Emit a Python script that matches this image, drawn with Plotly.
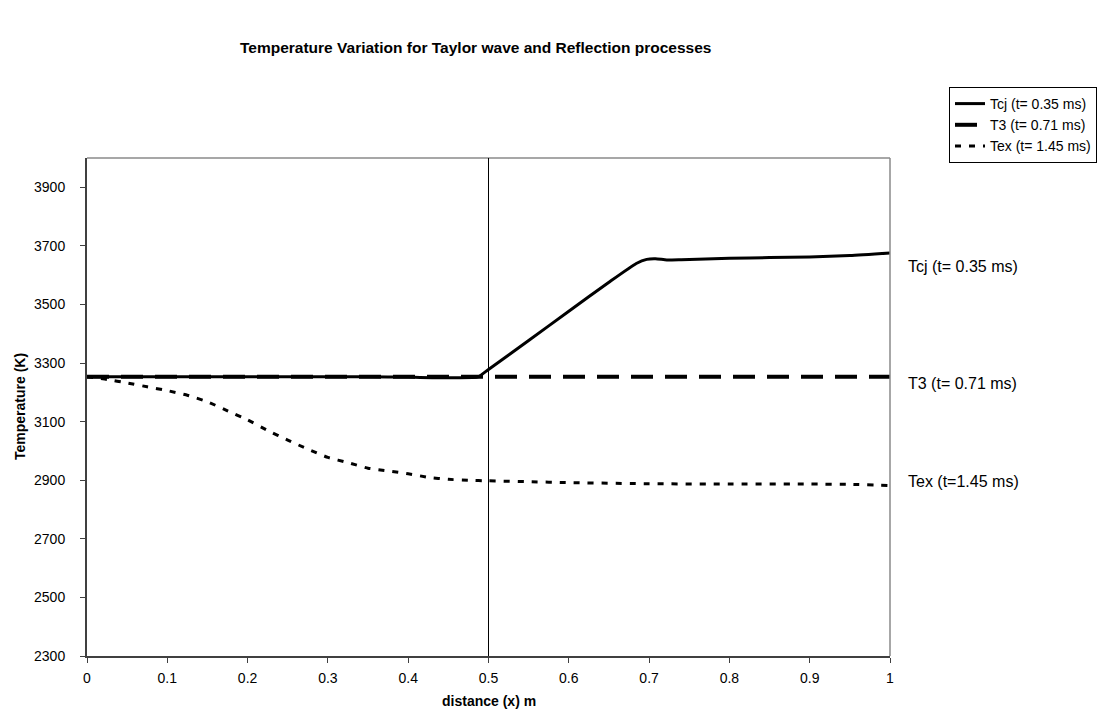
import plotly.graph_objects as go

# Distance along the tube (m) and temperature (K) for each state
x_tcj = [0, 0.05, 0.1, 0.15, 0.2, 0.25, 0.3, 0.35, 0.4, 0.43, 0.46, 0.487,
         0.5, 0.55, 0.6, 0.65, 0.684, 0.697, 0.708, 0.722, 0.74, 0.8,
         0.85, 0.9, 0.95, 1.0]
t_tcj = [3253, 3253, 3253, 3253, 3253, 3253, 3253, 3253, 3252, 3250, 3250, 3253,
         3278, 3377, 3477, 3576, 3640, 3654, 3656, 3652, 3653, 3658,
         3660, 3662, 3667, 3676]

x_t3 = [0, 0.1, 0.2, 0.3, 0.4, 0.5, 0.6, 0.7, 0.8, 0.9, 1.0]
t_t3 = [3253, 3253, 3253, 3253, 3253, 3253, 3253, 3253, 3253, 3253, 3253]

x_tex = [0, 0.025, 0.05, 0.075, 0.1, 0.125, 0.15, 0.175, 0.2, 0.225, 0.25,
         0.275, 0.3, 0.325, 0.35, 0.375, 0.4, 0.425, 0.45, 0.475, 0.5, 0.55,
         0.6, 0.7, 0.8, 0.9, 0.95, 1.0]
t_tex = [3253, 3244, 3232, 3219, 3206, 3190, 3168, 3137, 3106, 3070, 3037,
         3006, 2978, 2960, 2941, 2932, 2922, 2910, 2903, 2900, 2898, 2895,
         2892, 2888, 2887, 2887, 2886, 2882]

series_names = ["Tcj (t= 0.35 ms)", "T3 (t= 0.71 ms)", "Tex (t= 1.45 ms)"]
end_labels = ["Tcj (t= 0.35 ms)", "T3 (t= 0.71 ms)", "Tex (t=1.45 ms)"]
end_label_y = [3631, 3229, 2897]

x_ticks = [0, 0.1, 0.2, 0.3, 0.4, 0.5, 0.6, 0.7, 0.8, 0.9, 1]
x_tick_text = ["0", "0.1", "0.2", "0.3", "0.4", "0.5", "0.6", "0.7", "0.8", "0.9", "1"]
y_ticks = [2300, 2500, 2700, 2900, 3100, 3300, 3500, 3700, 3900]

FONT = "Liberation Sans, Arial, sans-serif"
W, H = 1101, 726

fig = go.Figure()
fig.add_trace(go.Scatter(x=x_tcj, y=t_tcj, mode="lines", name=series_names[0],
                         line=dict(color="black", width=3, shape="spline", smoothing=0.5)))
fig.add_trace(go.Scatter(x=x_t3, y=t_t3, mode="lines", name=series_names[1],
                         line=dict(color="black", width=4, dash="22px,12px")))
fig.add_trace(go.Scatter(x=x_tex, y=t_tex, mode="lines", name=series_names[2],
                         line=dict(color="black", width=3, dash="6px,8px",
                                   shape="spline", smoothing=0.4)))

# Top and right frame of the plot area (lighter grey)
fig.add_shape(type="line", xref="paper", yref="paper", x0=0, x1=1, y0=1, y1=1,
              line=dict(color="#8a8a8a", width=1.5))
fig.add_shape(type="line", xref="paper", yref="paper", x0=1, x1=1, y0=0, y1=1,
              line=dict(color="#8a8a8a", width=1.5))

# Mid-tube marker line at x = 0.5
fig.add_shape(type="line", xref="x", yref="paper", x0=0.5, x1=0.5, y0=0, y1=1,
              line=dict(color="black", width=1))

# Labels at the right end of each curve
for txt, yv in zip(end_labels, end_label_y):
    fig.add_annotation(x=1.02, xref="paper", y=yv, yref="y", text=txt,
                       showarrow=False, xanchor="left", yanchor="middle",
                       font=dict(family=FONT, size=16, color="black"))

# Titles
fig.add_annotation(x=0.484, xref="paper", y=1.0, yref="paper", yshift=111,
                   text="<b>Temperature Variation for Taylor wave and Reflection processes</b>",
                   showarrow=False, xanchor="center", yanchor="middle",
                   font=dict(family=FONT, size=15.5, color="black"))
fig.add_annotation(x=0.5, xref="paper", y=0, yref="paper", yshift=-45,
                   text="<b>distance (x) m</b>", showarrow=False,
                   xanchor="center", yanchor="middle",
                   font=dict(family=FONT, size=14, color="black"))
fig.add_annotation(x=0, xref="paper", xshift=-67, y=0.5, yref="paper",
                   text="<b>Temperature (K)</b>", showarrow=False, textangle=-90,
                   xanchor="center", yanchor="middle",
                   font=dict(family=FONT, size=14, color="black"))

fig.update_layout(
    width=W, height=H,
    margin=dict(l=87, r=211, t=158, b=70),
    paper_bgcolor="white", plot_bgcolor="white",
    font=dict(family=FONT, size=14, color="black"),
    showlegend=True,
    legend=dict(x=1097 / W, xref="container", xanchor="right", y=1 - 87 / H,
                yref="container", yanchor="top", bgcolor="white",
                bordercolor="black", borderwidth=1,
                font=dict(family=FONT, size=14, color="black"),
                tracegroupgap=0, itemwidth=30),
    xaxis=dict(range=[0, 1], tickvals=x_ticks, ticktext=x_tick_text,
               showgrid=False, zeroline=False, showline=True, linecolor="#404040",
               linewidth=2, ticks="outside", ticklen=5, tickcolor="#404040",
               ticklabelstandoff=3, tickfont=dict(family=FONT, size=14)),
    yaxis=dict(range=[2300, 4000], tickvals=y_ticks, showgrid=False, zeroline=False,
               showline=True, linecolor="#404040", linewidth=2,
               ticks="outside", ticklen=5, tickcolor="#404040",
               ticklabelstandoff=12, tickfont=dict(family=FONT, size=14)),
)

fig.write_html("out.html")
